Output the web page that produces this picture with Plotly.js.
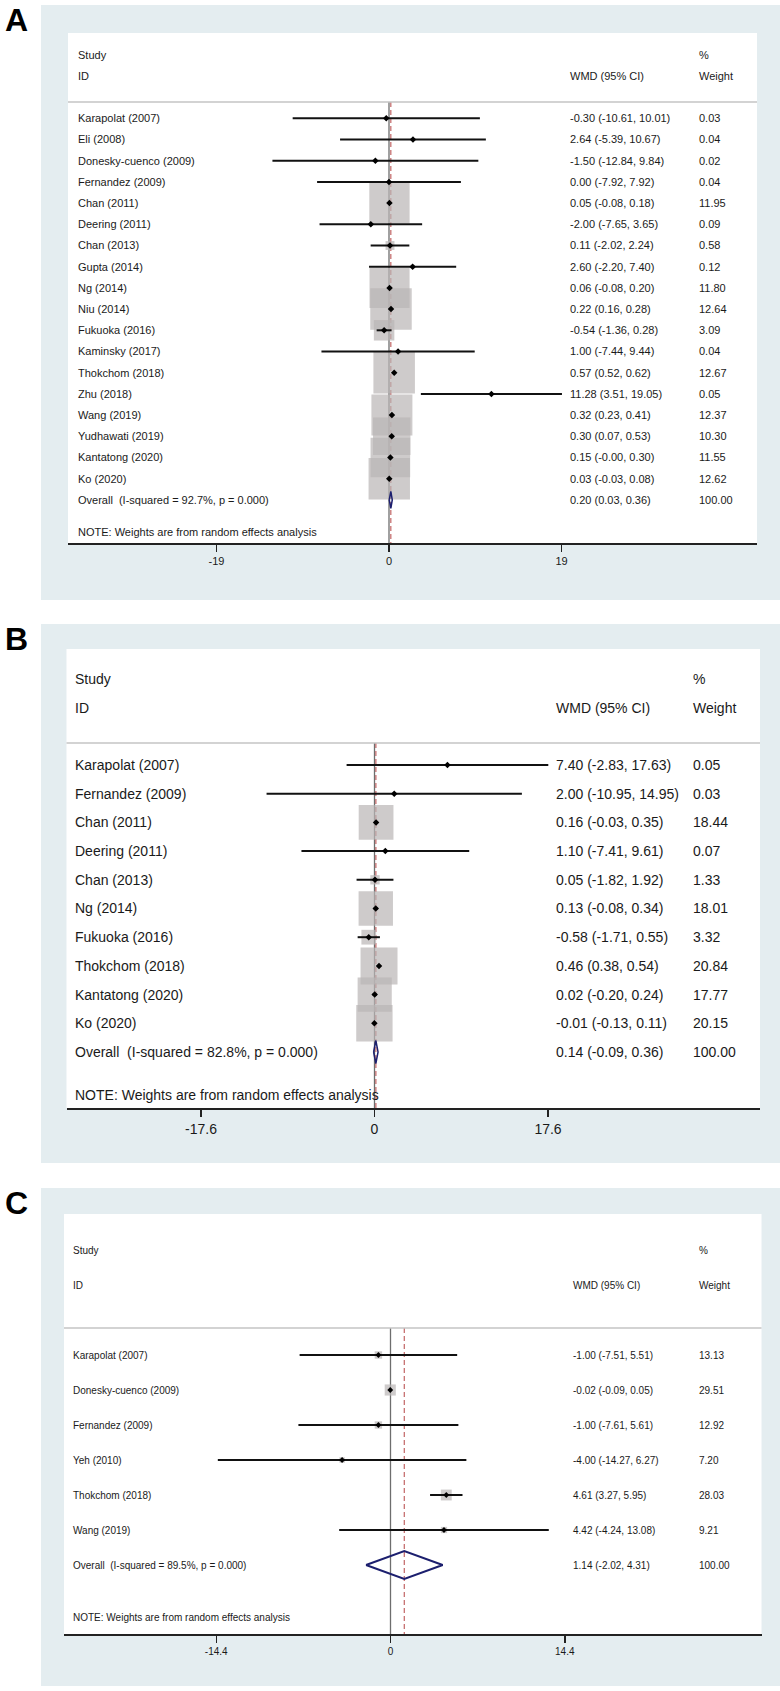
<!DOCTYPE html>
<html><head><meta charset="utf-8">
<script src="https://cdn.plot.ly/plotly-3.0.1.min.js"></script>
<style>html,body{margin:0;padding:0;background:#fff}#chart{width:780px;height:1691px}</style>
</head><body><div id="chart"></div>
<script>
// ---------------- DATA ----------------
// Panel A
const A_studies = ["Karapolat (2007)","Eli (2008)","Donesky-cuenco (2009)","Fernandez (2009)","Chan (2011)","Deering (2011)","Chan (2013)","Gupta (2014)","Ng (2014)","Niu (2014)","Fukuoka (2016)","Kaminsky (2017)","Thokchom (2018)","Zhu (2018)","Wang (2019)","Yudhawati (2019)","Kantatong (2020)","Ko (2020)"];
const A_es = [-0.30, 2.64, -1.50, 0.00, 0.05, -2.00, 0.11, 2.60, 0.06, 0.22, -0.54, 1.00, 0.57, 11.28, 0.32, 0.30, 0.15, 0.03];
const A_lo = [-10.61, -5.39, -12.84, -7.92, -0.08, -7.65, -2.02, -2.20, -0.08, 0.16, -1.36, -7.44, 0.52, 3.51, 0.23, 0.07, -0.001, -0.03];
const A_hi = [10.01, 10.67, 9.84, 7.92, 0.18, 3.65, 2.24, 7.40, 0.20, 0.28, 0.28, 9.44, 0.62, 19.05, 0.41, 0.53, 0.30, 0.08];
const A_w  = [0.03, 0.04, 0.02, 0.04, 11.95, 0.09, 0.58, 0.12, 11.80, 12.64, 3.09, 0.04, 12.67, 0.05, 12.37, 10.30, 11.55, 12.62];
const A_overall = [0.20, 0.03, 0.36, 100.00];   // es, lo, hi, weight
const A_i2 = "92.7%";
const A_ticks = [-19, 0, 19];
const A_tickText = ["-19", "0", "19"];

// Panel B
const B_studies = ["Karapolat (2007)","Fernandez (2009)","Chan (2011)","Deering (2011)","Chan (2013)","Ng (2014)","Fukuoka (2016)","Thokchom (2018)","Kantatong (2020)","Ko (2020)"];
const B_es = [7.40, 2.00, 0.16, 1.10, 0.05, 0.13, -0.58, 0.46, 0.02, -0.01];
const B_lo = [-2.83, -10.95, -0.03, -7.41, -1.82, -0.08, -1.71, 0.38, -0.20, -0.13];
const B_hi = [17.63, 14.95, 0.35, 9.61, 1.92, 0.34, 0.55, 0.54, 0.24, 0.11];
const B_w  = [0.05, 0.03, 18.44, 0.07, 1.33, 18.01, 3.32, 20.84, 17.77, 20.15];
const B_overall = [0.14, -0.09, 0.36, 100.00];
const B_i2 = "82.8%";
const B_ticks = [-17.6, 0, 17.6];
const B_tickText = ["-17.6", "0", "17.6"];

// Panel C
const C_studies = ["Karapolat (2007)","Donesky-cuenco (2009)","Fernandez (2009)","Yeh (2010)","Thokchom (2018)","Wang (2019)"];
const C_es = [-1.00, -0.02, -1.00, -4.00, 4.61, 4.42];
const C_lo = [-7.51, -0.09, -7.61, -14.27, 3.27, -4.24];
const C_hi = [5.51, 0.05, 5.61, 6.27, 5.95, 13.08];
const C_w  = [13.13, 29.51, 12.92, 7.20, 28.03, 9.21];
const C_overall = [1.14, -2.02, 4.31, 100.00];
const C_i2 = "89.5%";
const C_ticks = [-14.4, 0, 14.4];
const C_tickText = ["-14.4", "0", "14.4"];

// ---------------- LAYOUT GEOMETRY ----------------
const W = 780, H = 1691;
const FONT = 'Liberation Sans, Arial, Helvetica, sans-serif';
const TXT = '#1a1a1a';
const panels = [
  {letter:'A', studies:A_studies, es:A_es, lo:A_lo, hi:A_hi, w:A_w, ov:A_overall, i2:A_i2, ticks:A_ticks, tickText:A_tickText,
   bg:[41,5,780,600], white:[68,33,757,543], zero:389, unit:172.5/19, row0:118.3, rowPx:21.2,
   labelX:77, wmdX:569, wX:698, fs:11, k:11.66, pt:5, letterY:20, dlw:1.5},
  {letter:'B', studies:B_studies, es:B_es, lo:B_lo, hi:B_hi, w:B_w, ov:B_overall, i2:B_i2, ticks:B_ticks, tickText:B_tickText,
   bg:[41,624,780,1163], white:[66.5,649,760,1108], zero:374.5, unit:173.5/17.6, row0:765, rowPx:28.7,
   labelX:74, wmdX:555, wX:692, fs:14, k:8.1, pt:5, letterY:639, dlw:1.5},
  {letter:'C', studies:C_studies, es:C_es, lo:C_lo, hi:C_hi, w:C_w, ov:C_overall, i2:C_i2, ticks:C_ticks, tickText:C_tickText,
   bg:[41,1188,780,1686], white:[64,1214,761.5,1634], zero:390.5, unit:174.25/14.4, row0:1355, rowPx:35,
   labelX:72, wmdX:572, wX:698, fs:10, k:2.05, pt:4.5, letterY:1203, dlw:2}
];

const px = p => p / W;
const py = p => 1 - p / H;
const f2 = v => v.toFixed(2);

const traces = [];
const shapes = [];
const annotations = [];
const layout = {
  width: W, height: H,
  margin: {l:0, r:0, t:0, b:0},
  paper_bgcolor: '#ffffff',
  plot_bgcolor: 'rgba(0,0,0,0)',
  showlegend: false,
  font: {family: FONT, color: TXT},
  hovermode: false
};

panels.forEach((P, i) => {
  const sfx = i === 0 ? '' : String(i + 1);
  const xa = 'x' + sfx, ya = 'y' + sfx;
  const [wx0, wy0, wx1, wy1] = P.white;
  const n = P.studies.length;
  const idx = P.studies.map((_, j) => j);
  const yBottom = (wy1 - P.row0) / P.rowPx;
  const yTop = (wy0 - P.row0) / P.rowPx;
  const sepY = -0.77;

  layout['xaxis' + sfx] = {
    domain: [px(wx0), px(wx1)], anchor: ya,
    range: [(wx0 - P.zero) / P.unit, (wx1 - P.zero) / P.unit],
    showline: true, linecolor: '#222', linewidth: 2,
    ticks: 'outside', ticklen: 7, tickwidth: 1.5, tickcolor: '#222',
    tickmode: 'array', tickvals: P.ticks, ticktext: P.tickText,
    tickfont: {size: P.fs, color: TXT, family: FONT},
    showgrid: false, zeroline: false, fixedrange: true
  };
  layout['yaxis' + sfx] = {
    domain: [py(wy1), py(wy0)], anchor: xa,
    range: [yBottom, yTop],
    visible: false, showgrid: false, zeroline: false, fixedrange: true
  };

  // backgrounds
  shapes.push({type:'rect', xref:'paper', yref:'paper', layer:'below',
    x0: px(P.bg[0]), x1: px(P.bg[2]), y0: py(P.bg[3]), y1: py(P.bg[1]),
    fillcolor:'#e4edf0', line:{width:0}});
  shapes.push({type:'rect', xref:'paper', yref:'paper', layer:'below',
    x0: px(wx0), x1: px(wx1), y0: py(wy1), y1: py(wy0),
    fillcolor:'#ffffff', line:{width:0}});
  // header separator
  shapes.push({type:'line', xref:'paper', yref: ya, x0: px(wx0), x1: px(wx1), y0: sepY, y1: sepY,
    line:{color:'#c4c4c4', width:1.5}});
  // null line at 0
  shapes.push({type:'line', xref: xa, yref: ya, layer:'below', x0: 0, x1: 0, y0: sepY, y1: yBottom,
    line:{color:'#6e6e6e', width:1.3}});
  // overall estimate dashed line
  shapes.push({type:'line', xref: xa, yref: ya, layer:'below', x0: P.ov[0], x1: P.ov[0], y0: sepY, y1: yBottom,
    line:{color:'#c26565', width:1.2, dash:'5px,3px'}});

  // weight boxes
  traces.push({type:'scatter', mode:'markers', xaxis: xa, yaxis: ya,
    x: P.es, y: idx,
    marker:{symbol:'square', size: P.w.map(v => P.k * Math.sqrt(v)), color:'#b9b5b5', line:{width:0}},
    cliponaxis: false, hoverinfo:'skip'});
  // CI lines + point estimates
  traces.push({type:'scatter', mode:'markers', xaxis: xa, yaxis: ya,
    x: P.es, y: idx,
    marker:{symbol:'diamond', size: P.pt, color:'#000000', line:{width:0}},
    error_x:{type:'data', symmetric:false,
      array: P.hi.map((h, j) => h - P.es[j]),
      arrayminus: P.lo.map((l, j) => P.es[j] - l),
      width: 0, thickness: 2, color:'#111111'},
    cliponaxis: false, hoverinfo:'skip'});
  // overall diamond
  const [oe, ol, oh] = P.ov;
  traces.push({type:'scatter', mode:'lines', xaxis: xa, yaxis: ya,
    x: [ol, oe, oh, oe, ol], y: [n, n - 0.4, n, n + 0.4, n],
    line:{color:'#1c1f6e', width: P.dlw}, hoverinfo:'skip'});

  // text
  const txt = (x, y, s, size, extra) => Object.assign({
    xref:'paper', yref: ya, x: px(x), y: y, text: s, showarrow:false,
    xanchor:'left', yanchor:'middle', borderpad:0,
    font:{size: size, color: TXT, family: FONT}}, extra || {});
  annotations.push(txt(P.labelX, -3, 'Study', P.fs));
  annotations.push(txt(P.labelX, -2, 'ID', P.fs));
  annotations.push(txt(P.wmdX, -2, 'WMD (95% CI)', P.fs));
  annotations.push(txt(P.wX, -3, '%', P.fs));
  annotations.push(txt(P.wX, -2, 'Weight', P.fs));
  P.studies.forEach((s, j) => {
    annotations.push(txt(P.labelX, j, s, P.fs));
    annotations.push(txt(P.wmdX, j, `${f2(P.es[j])} (${f2(P.lo[j])}, ${f2(P.hi[j])})`, P.fs));
    annotations.push(txt(P.wX, j, f2(P.w[j]), P.fs));
  });
  annotations.push(txt(P.labelX, n, `Overall\u00a0 (I-squared = ${P.i2}, p = 0.000)`, P.fs));
  annotations.push(txt(P.wmdX, n, `${f2(oe)} (${f2(ol)}, ${f2(oh)})`, P.fs));
  annotations.push(txt(P.wX, n, f2(P.ov[3]), P.fs));
  annotations.push(txt(P.labelX, n + 1.5, 'NOTE: Weights are from random effects analysis', P.fs));
  // panel letter
  annotations.push({xref:'paper', yref:'paper', x: px(16.5), y: py(P.letterY), text:'<b>' + P.letter + '</b>',
    showarrow:false, xanchor:'center', yanchor:'middle', borderpad:0,
    font:{size:32, color:'#000', family: FONT}});
});

layout.shapes = shapes;
layout.annotations = annotations;

Plotly.newPlot('chart', traces, layout, {staticPlot: true, displayModeBar: false});
</script>
</body></html>
